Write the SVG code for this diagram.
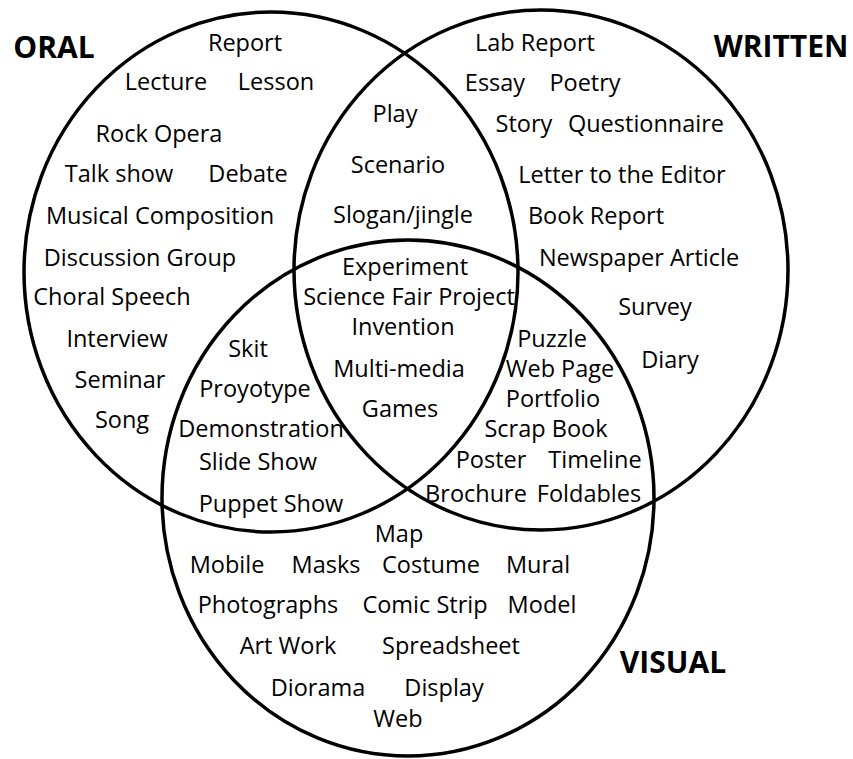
<svg xmlns="http://www.w3.org/2000/svg" width="853" height="759" viewBox="0 0 853 759">
<style>
.c{fill:none;stroke:#000;stroke-width:3.5}
text{font-family:"Open Sans","Noto Sans",sans-serif;font-size:23.5px;fill:#000;text-anchor:middle}
.h{font-weight:bold;font-size:30px}
</style>
<rect width="853" height="759" fill="#fff"/>
<g id="oral">
<ellipse class="c" cx="271" cy="272" rx="247" ry="260"/>
<text class="h" x="54" y="58">ORAL</text>
</g>
<g id="written">
<ellipse class="c" cx="541" cy="270" rx="247" ry="260"/>
<text class="h" x="781" y="57">WRITTEN</text>
</g>
<g id="visual">
<ellipse class="c" cx="408" cy="498" rx="246" ry="258"/>
<text class="h" x="673" y="673">VISUAL</text>
</g>
<g id="oral-only">
<text x="245" y="51">Report</text>
<text x="166" y="90">Lecture</text>
<text x="276" y="90">Lesson</text>
<text x="159" y="142">Rock Opera</text>
<text x="119" y="182">Talk show</text>
<text x="248" y="182">Debate</text>
<text x="160" y="224">Musical Composition</text>
<text x="140" y="266">Discussion Group</text>
<text x="112" y="305">Choral Speech</text>
<text x="117" y="347">Interview</text>
<text x="120" y="388">Seminar</text>
<text x="122" y="428">Song</text>
</g>
<g id="oral-written">
<text x="395" y="122">Play</text>
<text x="398" y="173">Scenario</text>
<text x="403" y="223">Slogan/jingle</text>
</g>
<g id="written-only">
<text x="535" y="51">Lab Report</text>
<text x="495" y="91">Essay</text>
<text x="585" y="91">Poetry</text>
<text x="524" y="132">Story</text>
<text x="646" y="132">Questionnaire</text>
<text x="622" y="183">Letter to the Editor</text>
<text x="596" y="224">Book Report</text>
<text x="639" y="266">Newspaper Article</text>
<text x="655" y="315">Survey</text>
<text x="670" y="368">Diary</text>
</g>
<g id="all-three">
<text x="405" y="275">Experiment</text>
<text x="409" y="305">Science Fair Project</text>
<text x="403" y="335">Invention</text>
<text x="399" y="377">Multi-media</text>
<text x="400" y="417">Games</text>
</g>
<g id="oral-visual">
<text x="248" y="357">Skit</text>
<text x="255" y="397">Proyotype</text>
<text x="261" y="437">Demonstration</text>
<text x="258" y="470">Slide Show</text>
<text x="271" y="512">Puppet Show</text>
</g>
<g id="written-visual">
<text x="552" y="347">Puzzle</text>
<text x="560" y="377">Web Page</text>
<text x="553" y="407">Portfolio</text>
<text x="546" y="437">Scrap Book</text>
<text x="491" y="468">Poster</text>
<text x="595" y="468">Timeline</text>
<text x="476" y="502">Brochure</text>
<text x="589" y="502">Foldables</text>
</g>
<g id="visual-only">
<text x="399" y="542">Map</text>
<text x="227" y="573">Mobile</text>
<text x="326" y="573">Masks</text>
<text x="431" y="573">Costume</text>
<text x="538" y="573">Mural</text>
<text x="268" y="613">Photographs</text>
<text x="425" y="613">Comic Strip</text>
<text x="542" y="613">Model</text>
<text x="288" y="654">Art Work</text>
<text x="451" y="654">Spreadsheet</text>
<text x="318" y="696">Diorama</text>
<text x="444" y="696">Display</text>
<text x="398" y="727">Web</text>
</g>
</svg>
